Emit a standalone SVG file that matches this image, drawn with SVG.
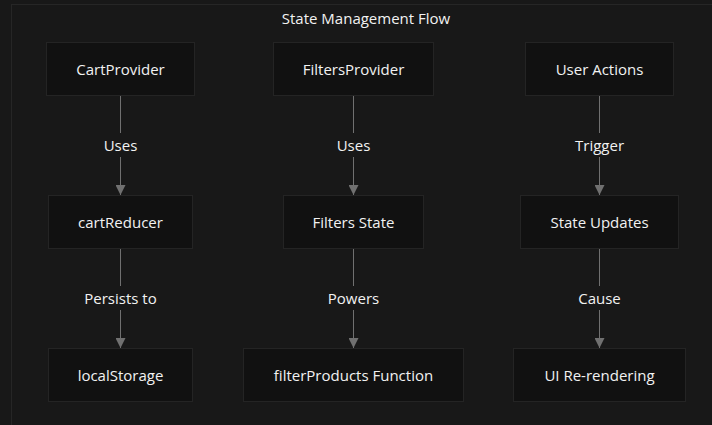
<svg xmlns="http://www.w3.org/2000/svg" width="712" height="425" viewBox="0 0 712 425">
<defs>
<style>
.node rect{fill:#111111;stroke:#242424;stroke-width:1}
.node text,.lbl{font-family:"Open Sans","Liberation Sans",sans-serif;font-size:15px;fill:#f2f2f2;text-anchor:middle;dominant-baseline:central}
.edge{stroke:#707070;stroke-width:1;fill:none}
.title{font-family:"Open Sans","Liberation Sans",sans-serif;font-size:15px;fill:#f2f2f2;text-anchor:middle;dominant-baseline:central}
</style>
<marker id="arr" viewBox="0 0 10 10" refX="10" refY="5" markerWidth="10" markerHeight="10" markerUnits="userSpaceOnUse" orient="auto">
<path d="M0,0 L10,5 L0,10 z" fill="#707070"/>
</marker>
</defs>
<rect x="0" y="0" width="712" height="425" fill="#181818"/>
<rect x="11.5" y="4.5" width="720" height="440" fill="#181818" stroke="#262626"/>
<text class="title" x="366" y="18">State Management Flow</text>
<g id="connectors">
<line class="edge" x1="120.5" y1="96" x2="120.5" y2="133"/>
<line class="edge" x1="120.5" y1="157" x2="120.5" y2="195" marker-end="url(#arr)"/>
<line class="edge" x1="120.5" y1="249" x2="120.5" y2="286"/>
<line class="edge" x1="120.5" y1="310" x2="120.5" y2="348" marker-end="url(#arr)"/>
<line class="edge" x1="353.5" y1="96" x2="353.5" y2="133"/>
<line class="edge" x1="353.5" y1="157" x2="353.5" y2="195" marker-end="url(#arr)"/>
<line class="edge" x1="353.5" y1="249" x2="353.5" y2="286"/>
<line class="edge" x1="353.5" y1="310" x2="353.5" y2="348" marker-end="url(#arr)"/>
<line class="edge" x1="599.5" y1="96" x2="599.5" y2="133"/>
<line class="edge" x1="599.5" y1="157" x2="599.5" y2="195" marker-end="url(#arr)"/>
<line class="edge" x1="599.5" y1="249" x2="599.5" y2="286"/>
<line class="edge" x1="599.5" y1="310" x2="599.5" y2="348" marker-end="url(#arr)"/>
<text class="lbl" x="120.5" y="145">Uses</text>
<text class="lbl" x="120.5" y="298">Persists to</text>
<text class="lbl" x="353.5" y="145">Uses</text>
<text class="lbl" x="353.5" y="298">Powers</text>
<text class="lbl" x="599.5" y="145">Trigger</text>
<text class="lbl" x="599.5" y="298">Cause</text>
</g>
<g id="cartProvider" class="node"><rect x="46.5" y="42.5" width="148" height="53"/><text x="120.5" y="69">CartProvider</text></g>
<g id="filtersProvider" class="node"><rect x="273.5" y="42.5" width="160" height="53"/><text x="353.5" y="69">FiltersProvider</text></g>
<g id="userActions" class="node"><rect x="525.5" y="42.5" width="148" height="53"/><text x="599.5" y="69">User Actions</text></g>
<g id="cartReducer" class="node"><rect x="48.5" y="195.5" width="144" height="53"/><text x="120.5" y="222">cartReducer</text></g>
<g id="filtersState" class="node"><rect x="283.5" y="195.5" width="140" height="53"/><text x="353.5" y="222">Filters State</text></g>
<g id="stateUpdates" class="node"><rect x="520.5" y="195.5" width="158" height="53"/><text x="599.5" y="222">State Updates</text></g>
<g id="localStorage" class="node"><rect x="48.5" y="348.5" width="144" height="53"/><text x="120.5" y="375">localStorage</text></g>
<g id="filterProducts" class="node"><rect x="243.5" y="348.5" width="220" height="53"/><text x="353.5" y="375">filterProducts Function</text></g>
<g id="uiRerendering" class="node"><rect x="513.5" y="348.5" width="172" height="53"/><text x="599.5" y="375">UI Re-rendering</text></g>
</svg>
